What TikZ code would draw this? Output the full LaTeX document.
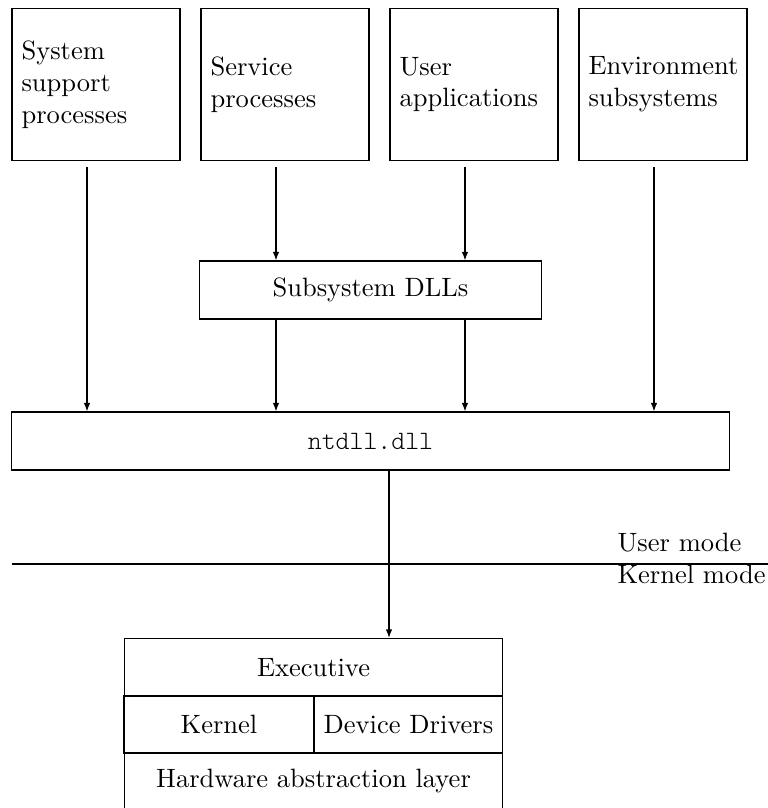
\documentclass[tikz,border=0pt]{standalone}
\usepackage{fontspec}
\setmonofont{Latin Modern Mono Light}
\usetikzlibrary{calc,arrows.meta}
\begin{document}
\begin{tikzpicture}[x=0.3774pt, y=-0.3774pt,
  box/.style={draw, line width=0.4pt, rectangle, minimum height=21.9pt},
  procbox/.style={draw, line width=0.4pt, rectangle, minimum height=57.7pt,
    text width=56.2pt, inner xsep=3.6pt, align=left},
  arr/.style={-{Latex[length=3.2pt,width=2.4pt]}, line width=0.4pt},
  modelabel/.style={inner sep=0pt, anchor=base west}]
\useasboundingbox (0,0) rectangle (768,808);

% user-mode processes
\node[procbox] (sys) at (96,84.5)  {System\\ support\\ processes};
\node[procbox] (svc) at (285,84.5) {Service\\ processes};
\node[procbox] (usr) at (474,84.5) {User\\ applications};
\node[procbox] (env) at (663,84.5) {Environment\\ subsystems};

% DLL layers
\node[box, minimum width=129pt] (dll) at (370.5,290) {Subsystem DLLs};
\node[box, minimum width=271.3pt] (ntdll) at (370.5,441) {\ttfamily ntdll.dll};

% kernel-mode components
\node[box, minimum width=143pt] (exec) at (313.5,667.5) {Executive};
\node[box, minimum width=71.7pt] (kern) at (219,724.5) {Kernel};
\node[box, minimum width=71.3pt] (drv) at (408.5,724.5) {Device Drivers};
\node[box, minimum width=143pt] (hal) at (313.5,781.5) {Hardware abstraction layer};

% calls into ntdll.dll
\draw[arr] ($(sys.south)+(-9,6)$) coordinate (s1) -- (s1 |- ntdll.north);
\draw[arr] ($(svc.south)+(-9,6)$) coordinate (s2) -- (s2 |- dll.north);
\draw[arr] ($(usr.south)+(-9,6)$) coordinate (s3) -- (s3 |- dll.north);
\draw[arr] ($(env.south)+(-9,6)$) coordinate (s4) -- (s4 |- ntdll.north);
\draw[arr] (s2 |- dll.south) -- (s2 |- ntdll.north);
\draw[arr] (s3 |- dll.south) -- (s3 |- ntdll.north);

% system call into the executive
\draw[arr] ($(ntdll.south)+(18.5,0)$) coordinate (sc) -- (sc |- exec.north);

% user/kernel boundary
\coordinate (bl) at (12,564);
\coordinate (br) at (768,564);
\draw[line width=0.4pt] (bl) -- (br);
\node[modelabel] (um) at (617,551) {User mode};
\node[modelabel] (km) at (617,583) {Kernel mode};
\end{tikzpicture}
\end{document}
